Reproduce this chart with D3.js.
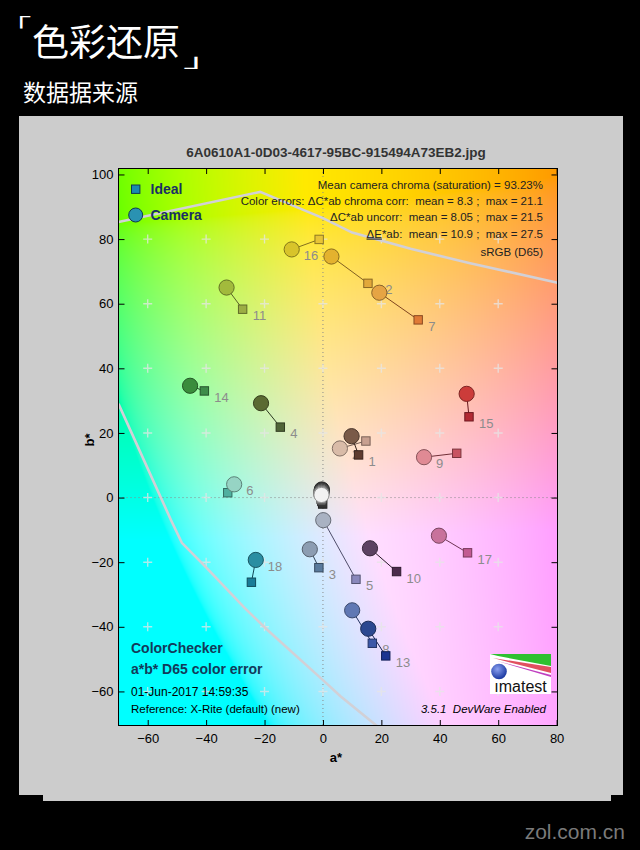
<!DOCTYPE html>
<html>
<head>
<meta charset="utf-8">
<script src="https://cdn.jsdelivr.net/npm/d3@7"></script>
<style>
  body { margin: 0; background: #000; }
  #chart svg { display: block; }
</style>
</head>
<body>
<div id="chart"></div>
<script>
// ColorChecker patches 1..24, a*/b* of ideal (square) and camera (circle)
const patchIds = d3.range(1, 25);
const idealA = [12.2, 14.7, -1.4, -14.6, 11.3, -32.6, 32.6, 16.9, 45.8, 25.2, -27.5, 15.4,
  21.5, -40.6, 50.0, -1.3, 49.5, -24.5, -0.4, -0.6, -0.7, -0.2, -0.4, -0.1];
const idealB = [13.2, 17.5, -21.7, 21.8, -25.3, 1.5, 55.0, -45.1, 13.7, -22.9, 58.3, 66.3,
  -49.0, 33.0, 25.0, 79.9, -17.1, -26.2, 1.2, -0.3, -0.5, -0.3, -1.2, -2.0];
const cameraA = [9.8, 5.8, -4.5, -21.2, 0.1, -30.4, 19.3, 10.0, 34.6, 16.1, -33.0, 2.9,
  15.5, -45.5, 49.2, -10.7, 39.7, -23.0, -0.5, -0.6, -0.5, -0.5, -0.4, -0.4];
const cameraB = [19.0, 15.2, -16.0, 29.2, -7.0, 4.1, 63.4, -34.9, 12.5, -15.7, 65.0, 74.6,
  -40.6, 34.6, 32.1, 76.8, -11.8, -19.3, 0.8, 1.1, 1.4, 1.8, 2.2, 2.5];
const idealColor = ['#5e3c30', '#c8a090', '#5a7a9c', '#506438', '#8a88bc', '#50b0a0', '#e07a36', '#3c58a8',
  '#c85462', '#4c2a4c', '#9cae44', '#e2a83a', '#1c3490', '#3e8c4a', '#b22a34', '#e8c436',
  '#c25a92', '#1a7c98', '#f3f3f2', '#c8c8c8', '#a0a0a0', '#7a7a79', '#555555', '#343434'];
const cameraColor = ['#7a5a48', '#d9bba8', '#8c9db2', '#5b6a32', '#a9b2c2', '#96d4c4', '#e6a444', '#6078b4',
  '#e08a94', '#5c4262', '#a2ba3c', '#e4b22e', '#2c4890', '#3a8c3c', '#cc3c3a', '#d8c42a',
  '#c8729c', '#2a8ea2', '#f2f2f2', '#c8c8c8', '#a0a0a0', '#787878', '#505050', '#303030'];
// which point the patch number sits beside
const labelAt = ['ideal', 'camera', 'ideal', 'ideal', 'ideal', 'camera', 'ideal', 'ideal',
  'camera', 'ideal', 'ideal', 'ideal', 'ideal', 'ideal', 'ideal', 'camera',
  'ideal', 'camera', 'none', 'none', 'none', 'none', 'none', 'none'];

// gamut boundary lines
const gamutTopA = [-70, -21.5, 0, 10, 30, 50, 80.3];
const gamutTopB = [85.3, 94.6, 86.5, 82, 77, 72.6, 66.5];
const gamutBottomA = [-70, -52, -48.3, -40, -27, -19, 0, 6, 18.5];
const gamutBottomB = [29, -7, -14, -21.6, -34, -41, -56.5, -61.5, -70.7];

const xTicks = [-60, -40, -20, 0, 20, 40, 60, 80];
const yTicks = [-60, -40, -20, 0, 20, 40, 60, 80, 100];
const gridA = [-60, -40, -20, 0, 20, 40, 60];
const gridB = [-60, -40, -20, 0, 20, 40, 60, 80];

const fileName = '6A0610A1-0D03-4617-95BC-915494A73EB2.jpg';
const statLines = [
  'Mean camera chroma (saturation) = 93.23%',
  'Color errors: ΔC*ab chroma corr:  mean = 8.3 ;  max = 21.1',
  'ΔC*ab uncorr:  mean = 8.05 ;  max = 21.5',
  '*ab:  mean = 10.9 ;  max = 27.5',
  'sRGB (D65)'
];
const chartTitle = ['ColorChecker', 'a*b* D65 color error'];
const chartInfo = ['01-Jun-2017 14:59:35', 'Reference: X-Rite (default) (new)'];

const draw = () => {
  const dimensions = {
    width: 640,
    height: 850,
    plot: { left: 118.5, right: 557.5, top: 168, bottom: 726 }
  };
  const p = dimensions.plot;

  const svg = d3.select('#chart')
    .append('svg')
    .attr('width', dimensions.width)
    .attr('height', dimensions.height)
    .style('font-family', '"Liberation Sans", Arial, sans-serif');

  svg.append('rect').attr('width', 640).attr('height', 850).attr('fill', '#000');

  // header
  const cjk = '"Noto Sans CJK SC", sans-serif';
  svg.append('text')
    .attr('transform', 'translate(-1, 32) scale(1.8, 1)')
    .attr('fill', '#fff')
    .style('font-family', cjk).style('font-size', '18px').text('「');
  svg.append('text').attr('x', 32).attr('y', 56).attr('fill', '#fff')
    .style('font-family', cjk).style('font-size', '37px').text('色彩还原');
  svg.append('text')
    .attr('transform', 'translate(183, 67) scale(2.3, 1)')
    .attr('fill', '#fff')
    .style('font-family', cjk).style('font-size', '18px').text('」');
  svg.append('text').attr('x', 23).attr('y', 101).attr('fill', '#fff')
    .style('font-family', cjk).style('font-size', '23px').text('数据据来源');

  svg.append('text').attr('x', 625).attr('y', 839).attr('fill', '#7a7a7a')
    .attr('text-anchor', 'end')
    .style('font-size', '21px').text('zol.com.cn');

  // grey panel
  svg.append('rect').attr('x', 19).attr('y', 116).attr('width', 604).attr('height', 679).attr('fill', '#cccccc');
  svg.append('rect').attr('x', 43).attr('y', 794).attr('width', 568).attr('height', 7).attr('fill', '#cccccc');

  const xScale = d3.scaleLinear().domain([-70, 80.3]).range([p.left, p.right]);
  const yScale = d3.scaleLinear().domain([-70.7, 102]).range([p.bottom, p.top]);

  // a*b* colour field at fixed L
  const cw = Math.round(p.right - p.left);
  const ch = Math.round(p.bottom - p.top);
  const canvas = document.createElement('canvas');
  canvas.width = cw;
  canvas.height = ch;
  const ctx = canvas.getContext('2d');
  const img = ctx.createImageData(cw, ch);
  const clamp = (v) => Math.max(0, Math.min(255, Math.round(v)));
  for (let j = 0; j < ch; j++) {
    const b = yScale.invert(p.top + j + 0.5);
    for (let i = 0; i < cw; i++) {
      const a = xScale.invert(p.left + i + 0.5);
      const c = d3.lab(92, a, b).rgb();
      const k = (j * cw + i) * 4;
      img.data[k] = clamp(c.r);
      img.data[k + 1] = clamp(c.g);
      img.data[k + 2] = clamp(c.b);
      img.data[k + 3] = 255;
    }
  }
  ctx.putImageData(img, 0, 0);

  svg.append('clipPath').attr('id', 'plot-clip')
    .append('rect')
    .attr('x', p.left).attr('y', p.top)
    .attr('width', p.right - p.left).attr('height', p.bottom - p.top);

  svg.append('image')
    .attr('x', p.left).attr('y', p.top)
    .attr('width', cw).attr('height', ch)
    .attr('preserveAspectRatio', 'none')
    .attr('href', canvas.toDataURL());

  const plot = svg.append('g').attr('clip-path', 'url(#plot-clip)');

  // dotted zero lines
  plot.append('line')
    .attr('x1', xScale(0)).attr('x2', xScale(0))
    .attr('y1', p.top).attr('y2', p.bottom)
    .attr('stroke', '#8a8a8a').attr('stroke-dasharray', '1,3');
  plot.append('line')
    .attr('x1', p.left).attr('x2', p.right)
    .attr('y1', yScale(0)).attr('y2', yScale(0))
    .attr('stroke', '#8a8a8a').attr('stroke-dasharray', '1,3');

  // grid plus marks
  const crosses = gridA.flatMap((a) => gridB.map((b) => [a, b]));
  plot.append('g')
    .selectAll('path')
    .data(crosses)
    .join('path')
    .attr('d', (d) => {
      const cx = xScale(d[0]);
      const cy = yScale(d[1]);
      return `M${cx - 4.5},${cy}H${cx + 4.5}M${cx},${cy - 4.5}V${cy + 4.5}`;
    })
    .attr('stroke', '#e6e6e6')
    .attr('stroke-opacity', 0.75)
    .attr('stroke-width', 1.4);

  // gamut lines
  const gamutLine = d3.line().x((d) => xScale(d[0])).y((d) => yScale(d[1]));
  [[gamutTopA, gamutTopB], [gamutBottomA, gamutBottomB]].forEach(([as, bs]) => {
    plot.append('path')
      .datum(as.map((a, i) => [a, bs[i]]))
      .attr('d', gamutLine)
      .attr('fill', 'none')
      .attr('stroke', '#d2d0d6')
      .attr('stroke-width', 2.6);
  });

  // axes with inward ticks
  const tickFont = (g) => g.selectAll('text')
    .style('font-family', '"Liberation Sans", Arial, sans-serif')
    .style('font-size', '13px')
    .attr('fill', '#000');

  svg.append('g')
    .attr('transform', `translate(0, ${p.bottom})`)
    .call(d3.axisBottom(xScale).tickValues(xTicks).tickSize(-6).tickSizeOuter(0).tickPadding(7.5))
    .call((g) => g.select('.domain').remove())
    .call(tickFont);
  svg.append('g')
    .attr('transform', `translate(0, ${p.top})`)
    .call(d3.axisTop(xScale).tickValues(xTicks).tickSize(-6).tickSizeOuter(0).tickFormat(''))
    .call((g) => g.select('.domain').remove());
  svg.append('g')
    .attr('transform', `translate(${p.left}, 0)`)
    .call(d3.axisLeft(yScale).tickValues(yTicks).tickSize(-6).tickSizeOuter(0).tickPadding(5))
    .call((g) => g.select('.domain').remove())
    .call(tickFont);
  svg.append('g')
    .attr('transform', `translate(${p.right}, 0)`)
    .call(d3.axisRight(yScale).tickValues(yTicks).tickSize(-6).tickSizeOuter(0).tickFormat(''))
    .call((g) => g.select('.domain').remove());

  svg.append('rect')
    .attr('x', p.left).attr('y', p.top + 0.5)
    .attr('width', p.right - p.left).attr('height', p.bottom - p.top - 1)
    .attr('fill', 'none').attr('stroke', '#000');

  svg.append('text')
    .attr('x', 336).attr('y', 762)
    .attr('text-anchor', 'middle')
    .style('font-size', '13px').style('font-weight', 'bold')
    .text('a*');
  svg.append('text')
    .attr('transform', 'translate(94, 440) rotate(-90)')
    .attr('text-anchor', 'middle')
    .style('font-size', '13px').style('font-weight', 'bold')
    .text('b*');

  svg.append('text')
    .attr('x', 336).attr('y', 157)
    .attr('text-anchor', 'middle')
    .attr('fill', '#333')
    .style('font-size', '13.5px').style('font-weight', 'bold')
    .text(fileName);

  // patch data
  const patches = patchIds.map((id, i) => ({
    id,
    ia: idealA[i], ib: idealB[i],
    ca: cameraA[i], cb: cameraB[i],
    ic: idealColor[i], cc: cameraColor[i],
    label: labelAt[i]
  }));
  const drawOrder = patches.slice().reverse();

  const marks = svg.append('g');

  marks.append('g')
    .selectAll('text')
    .data(patches.filter((d) => d.label !== 'none'))
    .join('text')
    .attr('x', (d) => (d.label === 'ideal' ? xScale(d.ia) + 10 : xScale(d.ca) + 12))
    .attr('y', (d) => (d.label === 'ideal' ? yScale(d.ib) : yScale(d.cb)) + 11)
    .attr('fill', '#8c8c8c')
    .style('font-size', '13px')
    .text((d) => d.id);

  marks.append('g')
    .selectAll('line')
    .data(drawOrder)
    .join('line')
    .attr('x1', (d) => xScale(d.ia)).attr('y1', (d) => yScale(d.ib))
    .attr('x2', (d) => xScale(d.ca)).attr('y2', (d) => yScale(d.cb))
    .attr('stroke', (d) => d3.color(d.ic).darker(1.6))
    .attr('stroke-width', 1);

  const sq = 8.4;
  marks.append('g')
    .selectAll('rect')
    .data(drawOrder)
    .join('rect')
    .attr('x', (d) => xScale(d.ia) - sq / 2)
    .attr('y', (d) => yScale(d.ib) - sq / 2)
    .attr('width', sq).attr('height', sq)
    .attr('fill', (d) => d.ic)
    .attr('stroke', (d) => d3.color(d.ic).darker(1.4))
    .attr('stroke-width', 1);

  marks.append('g')
    .selectAll('circle')
    .data(drawOrder)
    .join('circle')
    .attr('cx', (d) => xScale(d.ca))
    .attr('cy', (d) => yScale(d.cb))
    .attr('r', 7.6)
    .attr('fill', (d) => d.cc)
    .attr('stroke', (d) => d3.color(d.cc).darker(1.4))
    .attr('stroke-width', 1);

  // legend
  const legend = svg.append('g');
  legend.append('rect')
    .attr('x', 131.5).attr('y', 185).attr('width', 8.4).attr('height', 8.4)
    .attr('fill', '#1a8ab0').attr('stroke', '#0e3a50');
  legend.append('circle')
    .attr('cx', 135.7).attr('cy', 215).attr('r', 7)
    .attr('fill', '#2a92b2').attr('stroke', '#0e3a50');
  legend.selectAll('text')
    .data(['Ideal', 'Camera'])
    .join('text')
    .attr('x', 150.5)
    .attr('y', (d, i) => 194 + i * 26)
    .attr('fill', '#1a3064')
    .style('font-size', '14px').style('font-weight', 'bold')
    .text((d) => d);

  // statistics block
  const stats = svg.append('g')
    .attr('text-anchor', 'end')
    .attr('fill', '#222')
    .style('font-size', '11.5px');
  stats.selectAll('text')
    .data(statLines)
    .join('text')
    .attr('xml:space', 'preserve')
    .attr('x', 543)
    .attr('y', (d, i) => [188.5, 205, 220.5, 237.5, 255.5][i])
    .each(function(d, i) {
      const t = d3.select(this);
      if (i === 3) {
        t.append('tspan').style('text-decoration', 'underline').text('ΔE');
        t.append('tspan').text(d);
      } else {
        t.text(d);
      }
    });

  // bottom-left notes
  svg.append('g')
    .selectAll('text')
    .data(chartTitle)
    .join('text')
    .attr('x', 131).attr('y', (d, i) => 653 + i * 21)
    .attr('fill', '#123a5a')
    .style('font-size', '14px').style('font-weight', 'bold')
    .text((d) => d);
  svg.append('g')
    .selectAll('text')
    .data(chartInfo)
    .join('text')
    .attr('x', 131).attr('y', (d, i) => 695.5 + i * 17)
    .attr('fill', '#000')
    .style('font-size', (d, i) => (i === 0 ? '12px' : '11.5px'))
    .text((d) => d);

  svg.append('text')
    .attr('xml:space', 'preserve')
    .attr('x', 546).attr('y', 712.5)
    .attr('text-anchor', 'end')
    .style('font-size', '11.5px').style('font-style', 'italic')
    .text('3.5.1  DevWare Enabled');

  // imatest logo
  const logo = svg.append('g').attr('transform', 'translate(490, 654)');
  const grad = svg.append('defs').append('radialGradient').attr('id', 'ball')
    .attr('cx', '40%').attr('cy', '35%').attr('r', '65%');
  grad.append('stop').attr('offset', '0%').attr('stop-color', '#8aa0f0');
  grad.append('stop').attr('offset', '100%').attr('stop-color', '#1a38a0');
  logo.append('rect').attr('width', 61).attr('height', 40).attr('fill', '#fff');
  logo.append('path').attr('d', 'M0,0H61V12L8,2Z').attr('fill', '#2fc030');
  logo.append('path').attr('d', 'M3,4L61,13V19Z').attr('fill', '#e05060');
  logo.append('path').attr('d', 'M7,7L61,21V23Z').attr('fill', '#c040c0');
  logo.append('circle').attr('cx', 9).attr('cy', 17.5).attr('r', 7.8).attr('fill', 'url(#ball)');
  logo.append('text')
    .attr('x', 30.5).attr('y', 37.5)
    .attr('text-anchor', 'middle')
    .attr('fill', '#111')
    .style('font-size', '16px')
    .text('ımatest');
};

draw();
</script>
</body>
</html>
